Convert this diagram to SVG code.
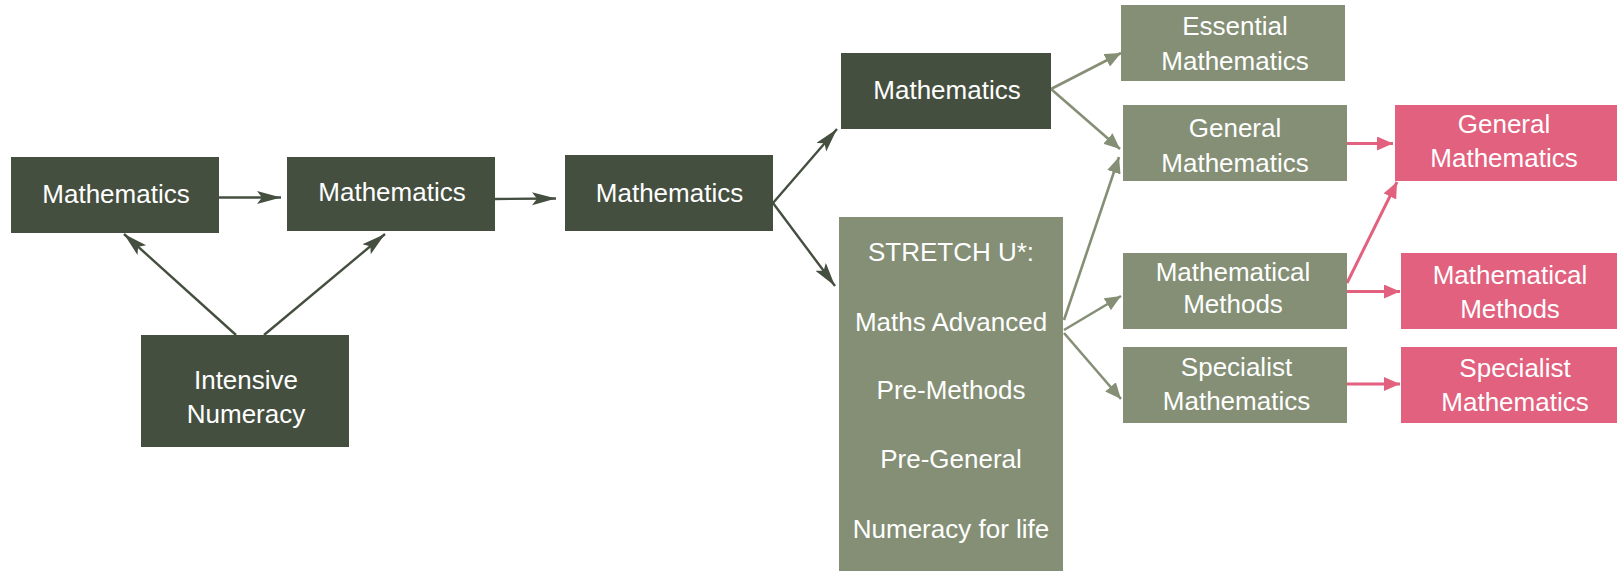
<svg xmlns="http://www.w3.org/2000/svg" width="1617" height="571" viewBox="0 0 1617 571">
<style>
  .dark{fill:#454F40}
  .light{fill:#848F75}
  .pink{fill:#E1617E}
  text{font-family:"Liberation Sans",Arial,sans-serif;font-size:26px;fill:#FFFFFF;text-anchor:middle}
  .cd{stroke:#454F40;stroke-width:2.4;fill:none}
  .cl{stroke:#848F75;stroke-width:2.6;fill:none}
  .cp{stroke:#E1617E;stroke-width:3;fill:none}
</style>
<defs>
  <marker id="ad" markerUnits="userSpaceOnUse" markerWidth="25" markerHeight="14" refX="24" refY="6.5" orient="auto">
    <path d="M0,0 L24,6.5 L0,13 L5,6.5 z" fill="#454F40"/>
  </marker>
  <marker id="al" markerUnits="userSpaceOnUse" markerWidth="17" markerHeight="14" refX="16" refY="7" orient="auto">
    <path d="M0,0 L16,7 L0,14 z" fill="#848F75"/>
  </marker>
  <marker id="ap" markerUnits="userSpaceOnUse" markerWidth="17" markerHeight="14" refX="16" refY="7" orient="auto">
    <path d="M0,0 L16,7 L0,14 z" fill="#E1617E"/>
  </marker>
</defs>
<rect width="1617" height="571" fill="#FFFFFF"/>
<g id="connectors">
  <path class="cd" marker-end="url(#ad)" d="M219,197.5 L281,197.5"/>
  <path class="cd" marker-end="url(#ad)" d="M495,199 L556,198.5"/>
  <path class="cd" marker-end="url(#ad)" d="M236,335 L124,234"/>
  <path class="cd" marker-end="url(#ad)" d="M264,335 L385,234"/>
  <path class="cd" marker-end="url(#ad)" d="M773,203 L837,129"/>
  <path class="cd" marker-end="url(#ad)" d="M773,203 L835,286"/>
  <path class="cl" marker-end="url(#al)" d="M1051,89 L1121,53"/>
  <path class="cl" marker-end="url(#al)" d="M1051,89 L1120,149"/>
  <path class="cl" marker-end="url(#al)" d="M1064,320 L1119,157"/>
  <path class="cl" marker-end="url(#al)" d="M1064,330 L1121,296"/>
  <path class="cl" marker-end="url(#al)" d="M1064,333 L1121,399"/>
  <path class="cp" marker-end="url(#ap)" d="M1347,143.5 L1393,143.5"/>
  <path class="cp" marker-end="url(#ap)" d="M1347,283 L1397,182"/>
  <path class="cp" marker-end="url(#ap)" d="M1347,291.5 L1400,291.5"/>
  <path class="cp" marker-end="url(#ap)" d="M1347,384 L1400,384"/>
</g>
<g id="n1"><rect class="dark" x="11" y="157" width="208" height="76"/><text x="116" y="203">Mathematics</text></g>
<g id="n2"><rect class="dark" x="287" y="157" width="208" height="74"/><text x="392" y="201">Mathematics</text></g>
<g id="n3"><rect class="dark" x="141" y="335" width="208" height="112"/><text x="246" y="389">Intensive</text><text x="246" y="423">Numeracy</text></g>
<g id="n4"><rect class="dark" x="565" y="155" width="208" height="76"/><text x="669.5" y="202">Mathematics</text></g>
<g id="n5"><rect class="dark" x="841" y="53" width="210" height="76"/><text x="947" y="99">Mathematics</text></g>
<g id="n6"><rect class="light" x="839" y="217" width="224" height="360"/>
  <text x="951" y="261">STRETCH U*:</text>
  <text x="951" y="331">Maths Advanced</text>
  <text x="951" y="399">Pre-Methods</text>
  <text x="951" y="468">Pre-General</text>
  <text x="951" y="538">Numeracy for life</text>
</g>
<g id="n7"><rect class="light" x="1121" y="5" width="224" height="76"/><text x="1235" y="35">Essential</text><text x="1235" y="70">Mathematics</text></g>
<g id="n8"><rect class="light" x="1123" y="105" width="224" height="76"/><text x="1235" y="137">General</text><text x="1235" y="172">Mathematics</text></g>
<g id="n9"><rect class="light" x="1123" y="253" width="224" height="76"/><text x="1233" y="281">Mathematical</text><text x="1233" y="313">Methods</text></g>
<g id="n10"><rect class="light" x="1123" y="347" width="224" height="76"/><text x="1236.5" y="376">Specialist</text><text x="1236.5" y="409.5">Mathematics</text></g>
<g id="n11"><rect class="pink" x="1395" y="105" width="224" height="76"/><text x="1504" y="133">General</text><text x="1504" y="167">Mathematics</text></g>
<g id="n12"><rect class="pink" x="1401" y="253" width="224" height="76"/><text x="1510" y="284">Mathematical</text><text x="1510" y="318">Methods</text></g>
<g id="n13"><rect class="pink" x="1401" y="347" width="224" height="76"/><text x="1515" y="377">Specialist</text><text x="1515" y="411">Mathematics</text></g>
</svg>
